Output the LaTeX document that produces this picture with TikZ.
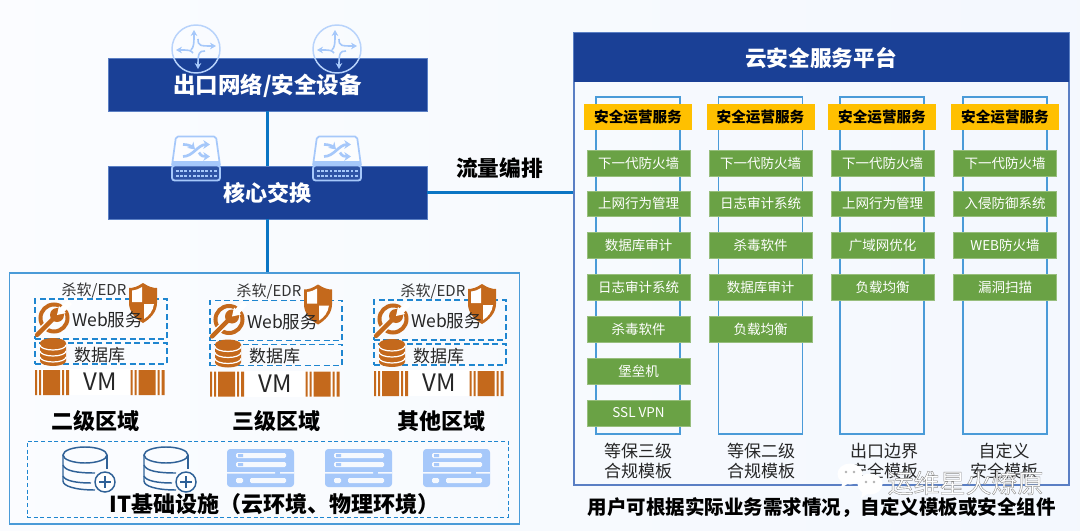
\documentclass[tikz,border=0pt]{standalone}
\usepackage{fontspec}
\setmainfont{Noto Sans CJK SC}
\usetikzlibrary{arrows.meta}
\definecolor{navy}{HTML}{1A4096}
\definecolor{linkblue}{HTML}{0B75C4}
\definecolor{frameblue}{HTML}{4A9BD8}
\definecolor{dashblue}{HTML}{1F86D0}
\definecolor{greenb}{HTML}{6AA245}
\definecolor{amber}{HTML}{FFC000}
\definecolor{rust}{HTML}{C4691C}
\definecolor{pale}{HTML}{A6C8FA}
\definecolor{dbline}{HTML}{2F6197}
\definecolor{platline}{HTML}{5A7FC4}
\newcommand{\px}[1]{\fontsize{\fpeval{#1*0.75}pt}{\fpeval{#1*0.9}pt}\selectfont}
\tikzset{
  x=0.75pt,y=-0.75pt,
  navybox/.style={draw=platline,line width=0.5pt,fill=navy,text=white,font=\px{22.5}\bfseries,minimum width=239.25pt,minimum height=39.75pt,inner sep=0pt},
  link/.style={draw=linkblue,line width=2.4pt},
  column/.style={draw=frameblue,line width=1.3pt,fill=none,minimum width=63pt,minimum height=252.75pt,inner sep=0pt},
  ambox/.style={fill=amber,font=\px{14.6}\bfseries,text=black,minimum width=81pt,minimum height=20pt,inner sep=0pt},
  gbox/.style={fill=greenb,draw=greenb!70!white,line width=0.3pt,font=\px{13.5},text=white,minimum width=77pt,minimum height=19.2pt,inner sep=0pt},
  tlabel/.style={font=\px{17},text=black!85,align=center,inner sep=0pt},
  zlabel/.style={font=\px{22}\bfseries,text=black,inner sep=0pt},
  dashbox/.style={draw=dashblue,dashed,dash pattern=on 4.5pt off 2.6pt,line width=1.1pt,inner sep=0pt},
  plain/.style={font=\px{17},text=black!85,inner sep=0pt},
  routericon/.pic={
    \draw[pale!80!white,line width=1.1pt] (0,0) circle (24);
    \begin{scope}[pale,line width=1.2pt,-{Stealth[length=4.5pt,width=5pt]}]
      \draw (-5,1) .. controls (-2,-2) and (-2,-6) .. (-2,-19);
      \draw (-3,4) .. controls (-5,1) and (-8,1) .. (-20,1);
      \draw (2,-10) .. controls (2,-3) and (4,-3) .. (20,-3);
      \draw (9,2) .. controls (3,2) and (2,4) .. (2,20);
    \end{scope}
  },
  switchicon/.pic={
    \fill[white,opacity=0.6] (-20,-22) -- (20,-22) -- (24,7) -- (-24,7) -- cycle;
    \fill[pale] (-24,2) -- (24,2) -- (24,7) -- (-24,7) -- cycle;
    \draw[pale,line width=1.3pt,rounded corners=1.5] (-24,7) -- (-20,-22) -- (20,-22) -- (24,7);
    \draw[pale,line width=1.4pt,rounded corners=2,fill=navy!85!pale] (-24,7) rectangle (24,22);
    \begin{scope}[pale,line width=2pt,-{Stealth[length=5pt,width=6.5pt]}]
      \draw (-13,-2) .. controls (-3,-2) and (2,-14) .. (14,-14);
      \draw (-13,-14) .. controls (-6,-14) and (-3,-11) .. (-1,-9);
      \draw (3,-6) .. controls (5,-2) and (8,-2) .. (14,-2);
    \end{scope}
    \foreach \i in {0,...,9}{\fill[pale] (-20+\i*4.2,11) rectangle ++(2.8,2);\fill[pale] (-20+\i*4.2,16) rectangle ++(2.8,2);}
  },
  wrenchicon/.pic={
    \draw[rust,line width=3pt] (0,0) circle (13.5);
    \draw[white,line width=5.5pt] (-13,13) -- (-7,7);
    \draw[white,line width=4.5pt] (6,-6) -- (16,-16);
    \draw[rust,line width=3.2pt,line cap=round] (-17,17) -- (0,0);
    \fill[rust] (3,-3) circle (7);
    \fill[white] (3,-3) -- (5,-12) -- (12,-5) -- cycle;
  },
  shieldicon/.pic={
    \fill[rust] (0,-20) .. controls (6,-16) and (10,-15) .. (14,-15) -- (14,0) .. controls (14,9) and (7,16) .. (0,20) .. controls (-7,16) and (-14,9) .. (-14,0) -- (-14,-15) .. controls (-10,-15) and (-6,-16) .. (0,-20) -- cycle;
    \fill[white] (-1,-16) -- (-1,-1) -- (-11,-1) -- (-11,-12.5) .. controls (-7,-13) and (-4,-14) .. (-1,-16) -- cycle;
    \fill[white] (1,1) -- (11,1) .. controls (10,8) and (6,13) .. (1,16) -- cycle;
  },
  dbrust/.pic={
    \fill[rust] (-13,-9) arc[start angle=180,end angle=360,x radius=13,y radius=5] -- (13,9) arc[start angle=0,end angle=180,x radius=13,y radius=5] -- cycle;
    \draw[white,line width=0.9pt] (-13,-7) arc[start angle=180,end angle=0,x radius=13,y radius=5];
    \draw[white,line width=0.9pt] (-13,-1) arc[start angle=180,end angle=0,x radius=13,y radius=5];
    \draw[white,line width=0.9pt] (-13,5) arc[start angle=180,end angle=0,x radius=13,y radius=5];
  },
  vmicon/.pic={
    \fill[rust] (0,0) rectangle (2,25) (4,0) rectangle (6,25) (8,0) rectangle (25,25) (27,0) rectangle (29,25) (31,0) rectangle (34,25);
  },
  dbplus/.pic={
    \begin{scope}[dbline,line width=1.1pt]
      \draw (0,0) ellipse (22 and 8);
      \draw (-22,0) -- (-22,26) .. controls (-22,31) and (-10,35) .. (10,35);
      \draw (22,0) -- (22,14);
      \draw (-22,10) .. controls (-20,16) and (-8,18) .. (10,18);
      \draw (-22,21) .. controls (-20,26) and (-8,28) .. (6,28);
      \draw[fill=white] (20,27) circle (10);
      \draw (14,27) -- (26,27) (20,21) -- (20,33);
    \end{scope}
  },
  servericon/.pic={
    \fill[pale,rounded corners=2.5] (0,0) rectangle (67,38);
    \fill[white!90!pale,rounded corners=1] (9,4) rectangle (59,9) (9,13) rectangle (59,18);
    \fill[pale] (11,5) rectangle (16,8) (11,14) rectangle (16,17);
    \fill[white!90!pale] (0,23) rectangle (48,24.5) (53,23) rectangle (67,24.5);
    \fill[white!90!pale,rounded corners=1] (9,29) rectangle (16,34) (23,29) rectangle (59,34);
  },
  wechat/.pic={
    \fill[white] (0,0) ellipse (12.5 and 10.5);
    \fill[white] (-7,6) -- (-9,14) -- (-1,9) -- cycle;
    \fill[black!30] (-4,-2) circle (1.3) (4,-2) circle (1.3);
  },
}
\newcommand{\zone}[3]{%
  \begin{scope}[shift={(#2,#3)}]
    \fill[white] (35,369) rectangle (165,395);
    \node[dashbox,minimum width=99pt,minimum height=30pt] (#1web) at (101,319) {};
    \node[dashbox,minimum width=99pt,minimum height=15.75pt] (#1db) at (101,353.5) {};
    \node[font=\px{15},text=black!80,inner sep=0pt] (#1edr) at (94,290.5) {杀软/EDR};
    \pic at (143,303) {shieldicon};
    \pic at (54,318) {wrenchicon};
    \node[font=\px{17.5},text=black!85,inner sep=0pt] (#1webt) at (107.5,320) {Web服务};
    \pic at (53,352) {dbrust};
    \node[plain] (#1dbt) at (99.5,355) {数据库};
    \pic at (35,370) {vmicon};
    \pic at (130.5,370) {vmicon};
    \node[font=\px{24},text=black!85,inner sep=0pt] (#1vm) at (100,382) {VM};
  \end{scope}}
\begin{document}
\begin{tikzpicture}
\useasboundingbox (0,0) rectangle (1080,531);
\shade[left color=white!92!pale!60!white,right color=black!3!pale!12!white] (0,0) rectangle (1080,531);

% left stack
\node[navybox,text height=0pt,text depth=0pt] (exit) at (267.5,84.5) {};
\node[navybox] (core) at (267.5,192.5) {};
\pic at (196,49) {routericon};
\pic at (337,49) {routericon};
\pic at (196,158.5) {switchicon};
\pic at (337,158.5) {switchicon};
\node[font=\px{22.5}\bfseries,text=white,inner sep=0pt] (exitt) at (267.5,85.5) {出口网络/安全设备};
\node[font=\px{22}\bfseries,text=white,inner sep=0pt] (coret) at (267.5,193.5) {核心交换};

% zones frame
\node[draw=frameblue,line width=1.2pt,minimum width=382.5pt,minimum height=188.25pt,inner sep=0pt] (zones) at (264.5,398.5) {};
\node[draw=dashblue,densely dashed,line width=0.6pt,minimum width=360.75pt,minimum height=57pt,inner sep=0pt] (infra) at (267.5,479) {};

% platform
\node[draw=platline,line width=1pt,minimum width=371.25pt,minimum height=339pt,inner sep=0pt] (platform) at (821.5,259) {};
\node[fill=navy,text=white,font=\px{21.7}\bfseries,minimum width=371.25pt,minimum height=36.75pt,inner sep=0pt] (plathead) at (821.5,57.5) {};
\node[font=\px{21.7}\bfseries,text=white,inner sep=0pt] (platt) at (821,58.5) {云安全服务平台};

\draw[link] (exit.south) -- (core.north);
\draw[link] (core.south) -- (core.south |- zones.north);
\draw[link] (core.east) -- (core.east -| platform.west);
\node[font=\px{21.7}\bfseries,inner sep=0pt] (flow) at (499.5,168) {流量编排};

% zones
\zone{za}{0}{0}
\zone{zb}{175}{1.5}
\zone{zc}{339}{1}
\node[zlabel] (zat) at (95,421) {二级区域};
\node[zlabel] (zbt) at (276,421) {三级区域};
\node[zlabel] (zct) at (441,421) {其他区域};

% infrastructure
\pic at (85,455) {dbplus};
\pic at (166,455) {dbplus};
\pic at (227,449) {servericon};
\pic at (325,449) {servericon};
\pic at (423,449) {servericon};
\node[font=\px{22}\bfseries,inner sep=0pt] (infrat) at (274.5,504) {IT基础设施（云环境、物理环境）};

% columns
\node[column] (ca) at (638,265.5) {};
\node[column] (cb) at (760.5,265.5) {};
\node[column] (cc) at (882,265.5) {};
\node[column] (cd) at (1005,265.5) {};
\node[ambox] (aa) at (638,117) {安全运营服务};
\node[ambox] (ab) at (760.5,117) {安全运营服务};
\node[ambox] (ac) at (882,117) {安全运营服务};
\node[ambox] (ad) at (1005,117) {安全运营服务};

\node[gbox] (a1) at (638.5,163) {下一代防火墙};
\node[gbox] (a2) at (638.5,203.5) {上网行为管理};
\node[gbox] (a3) at (638.5,245) {数据库审计};
\node[gbox] (a4) at (638.5,287) {日志审计系统};
\node[gbox] (a5) at (638.5,329) {杀毒软件};
\node[gbox] (a6) at (638.5,371) {堡垒机};
\node[gbox] (a7) at (638.5,413) {SSL VPN};

\node[gbox] (b1) at (760.5,163) {下一代防火墙};
\node[gbox] (b2) at (760.5,203.5) {日志审计系统};
\node[gbox] (b3) at (760.5,245) {杀毒软件};
\node[gbox] (b4) at (760.5,287) {数据库审计};
\node[gbox] (b5) at (760.5,329) {负载均衡};

\node[gbox] (c1) at (882.5,163) {下一代防火墙};
\node[gbox] (c2) at (882.5,203.5) {上网行为管理};
\node[gbox] (c3) at (882.5,245) {广域网优化};
\node[gbox] (c4) at (882.5,287) {负载均衡};

\node[gbox] (d1) at (1005,163) {下一代防火墙};
\node[gbox] (d2) at (1005,203.5) {入侵防御系统};
\node[gbox] (d3) at (1005,245) {WEB防火墙};
\node[gbox] (d4) at (1005,287) {漏洞扫描};

\node[tlabel] (la) at (638,461) {等保三级\\合规模板};
\node[tlabel] (lb) at (761,461) {等保二级\\合规模板};
\node[tlabel] (lc) at (884,461) {出口边界\\安全模板};
\node[tlabel] (ld) at (1004,461) {自定义\\安全模板};
\node[font=\px{19.5}\bfseries,inner sep=0pt] (note) at (821.5,508) {用户可根据实际业务需求情况，自定义模板或安全组件};

% watermark
\pic at (850,474) {wechat};
\pic at (870,484) {wechat};
\node[font=\px{26},text=white,inner sep=0pt] (mark) at (965.5,483) {\special{pdf:code 2 Tr 0.3 w 0.55 G}运维星火燎原\special{pdf:code 0 Tr 0 G}};
\end{tikzpicture}
\end{document}
